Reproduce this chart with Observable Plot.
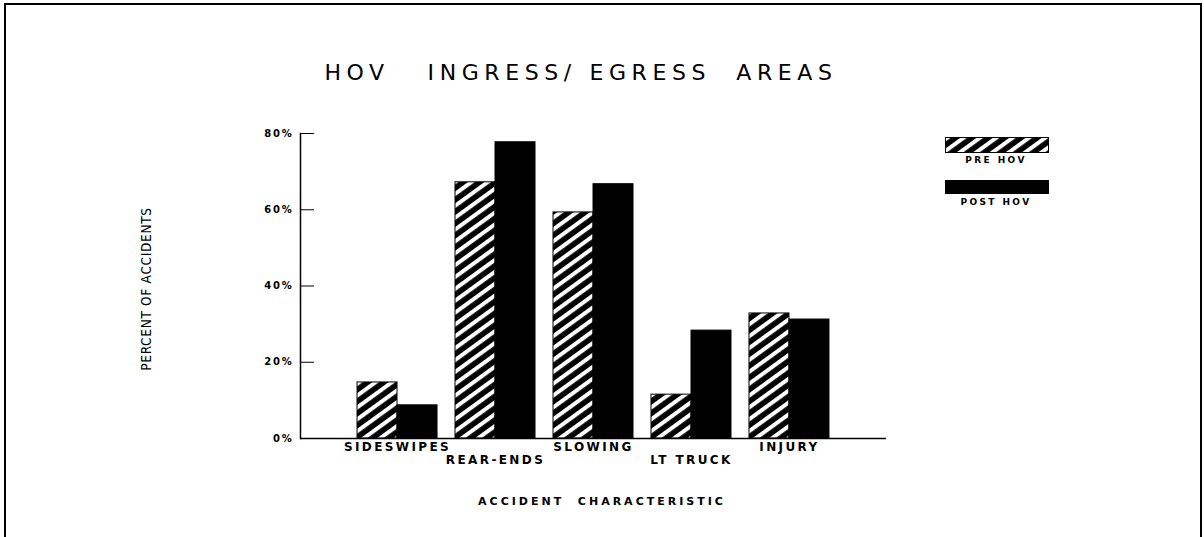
<!DOCTYPE html>
<html>
<head>
<meta charset="utf-8">
<script src="https://cdn.jsdelivr.net/npm/d3@7"></script>
<script src="https://cdn.jsdelivr.net/npm/@observablehq/plot@0.6"></script>
<style>
  body { margin: 0; background: #fff; }
  #wrap { position: relative; width: 1204px; height: 537px; overflow: hidden; background: #fff; }
  #border { position: absolute; left: 4px; top: 3px; width: 1198px; height: 600px; border: 2px solid #000; border-bottom: none; box-sizing: border-box; pointer-events: none; }
  #chart { position: absolute; left: 0; top: 0; }
  .ov { position: absolute; white-space: pre; color: #000; font-family: "DejaVu Sans", sans-serif; line-height: 1; }
  #title { left: 0; width: 1162px; top: 62px; text-align: center; font-size: 22px; letter-spacing: 5.6px; font-weight: normal; }
  #xtitle { left: 0; width: 1204px; top: 496px; text-align: center; font-size: 11px; font-weight: bold; letter-spacing: 3px; }
  #ytitle { left: 147px; top: 289px; transform: translate(-50%, -50%) rotate(-90deg); font-family: "DejaVu Sans Condensed", "DejaVu Sans", sans-serif; font-stretch: condensed; font-size: 13.5px; letter-spacing: 0.7px; }
  .lg { position: absolute; }
  .lgt { position: absolute; font-size: 9px; font-weight: bold; letter-spacing: 2.4px; text-align: center; width: 120px; }
  #chart svg text { font-family: "DejaVu Sans", sans-serif; }
  #chart g[aria-label="y-axis tick label"] text { letter-spacing: 1.8px; }
  #chart g[aria-label="x-axis tick label"] text { letter-spacing: 2.4px; }
</style>
</head>
<body>
<svg width="0" height="0" style="position:absolute">
  <defs>
    <pattern id="hatch" patternUnits="userSpaceOnUse" width="10" height="9.6" patternTransform="rotate(-36)">
      <rect width="10" height="9.6" fill="#000"></rect>
      <rect y="0" width="10" height="4" fill="#fff"></rect>
    </pattern>
  </defs>
</svg>
<div id="wrap">
  <div id="chart"></div>
  <div id="border"></div>
  <div class="ov" id="title">HOV   INGRESS/ EGRESS  AREAS</div>
  <div class="ov" id="ytitle">PERCENT OF ACCIDENTS</div>
  <div class="ov" id="xtitle">ACCIDENT  CHARACTERISTIC</div>
  <svg class="lg" style="left:945px;top:137px" width="104" height="16"><rect x="0.5" y="0.5" width="103" height="15" fill="url(#hatch)" stroke="#000"></rect></svg>
  <div class="ov lgt" style="left:936px;top:156px">PRE HOV</div>
  <svg class="lg" style="left:945px;top:180px" width="104" height="14"><rect x="0" y="0" width="104" height="14" fill="#000"></rect></svg>
  <div class="ov lgt" style="left:936px;top:198px">POST HOV</div>
</div>
<script>
const categories = ["SIDESWIPES", "REAR-ENDS", "SLOWING", "LT TRUCK", "INJURY"];
const preHov = [14.7, 67.2, 59.3, 11.5, 32.8];
const postHov = [8.7, 77.7, 66.7, 28.3, 31.2];
const yTicks = [0, 20, 40, 60, 80];

const preRows = categories.map((c, i) => ({category: c, value: preHov[i]}));
const postRows = categories.map((c, i) => ({category: c, value: postHov[i]}));

const chart = Plot.plot({
  width: 1204,
  height: 537,
  marginLeft: 300,
  marginRight: 318,
  marginTop: 133,
  marginBottom: 99,
  style: {background: "transparent", fontFamily: "DejaVu Sans, sans-serif"},
  x: {domain: categories, paddingInner: 18 / 98, paddingOuter: 0.582, align: 0.5, round: false, axis: null},
  y: {domain: [0, 80], axis: null},
  marks: [
    Plot.barY(preRows, {x: "category", y: "value", fill: "url(#hatch)", stroke: "#000", strokeWidth: 1, insetRight: 40}),
    Plot.barY(postRows, {x: "category", y: "value", fill: "#000", stroke: "#000", strokeWidth: 1, insetLeft: 40}),
    Plot.ruleY([0], {stroke: "#000", strokeWidth: 1.5}),
    Plot.frame({anchor: "left", stroke: "#000", strokeWidth: 1.5}),
    Plot.axisY(yTicks, {tickSize: -14, tickPadding: 21, tickFormat: d => d + "%", fontSize: 10, fontWeight: "bold", label: null}),
    Plot.axisX([categories[0], categories[2], categories[4]], {tickSize: 0, tickPadding: 4, fontSize: 12, fontWeight: "bold", label: null}),
    Plot.axisX([categories[1], categories[3]], {tickSize: 0, tickPadding: 17, fontSize: 12, fontWeight: "bold", label: null})
  ]
});
document.getElementById("chart").appendChild(chart);
</script>
</body>
</html>
